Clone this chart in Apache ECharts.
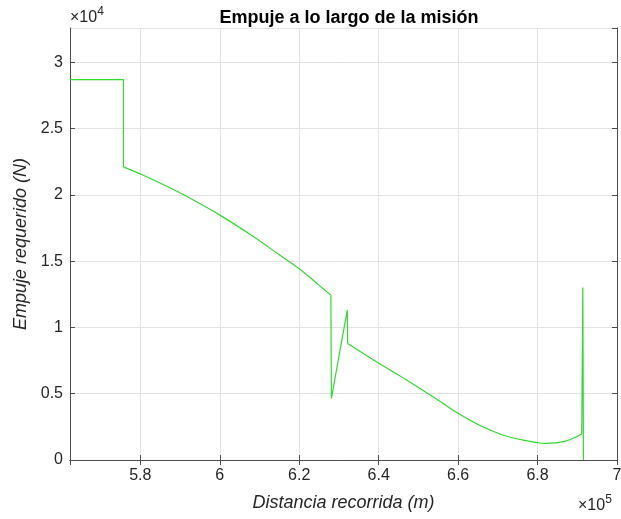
<!DOCTYPE html>
<html>
<head>
<meta charset="utf-8">
<script src="https://cdn.jsdelivr.net/npm/echarts@6/dist/echarts.min.js"></script>
<style>html,body{margin:0;padding:0;background:#fff;}#c{width:621px;height:519px;}</style>
</head>
<body>
<div id="c"></div>
<script>
// Distance travelled (m)
const distancia = [562300, 575750, 575750, 580200, 586000, 591500, 600050, 608250, 614970, 620180, 625030, 627970,
  628100, 632100, 632200, 640130, 646840, 655220, 660000, 665280, 672000, 680130, 682060, 687090,
  691120, 691400, 691550];
// Required thrust (N)
const empuje = [28710, 28710, 22120, 21560, 20750, 19920, 18480, 16900, 15490, 14400, 13180, 12440,
  4650, 11310, 8800, 7290, 6080, 4470, 3520, 2640, 1810, 1300, 1260, 1430,
  1960, 13020, 0];
// Index ranges of the smooth (continuous) flight phases; the rest are straight jumps
const smoothPhases = [[2, 11], [14, 24]];
const xTickLabels = ['5.8', '6', '6.2', '6.4', '6.6', '6.8', '7'];
const yTickLabels = ['0', '0.5', '1', '1.5', '2', '2.5', '3'];

const xMin = 562300, xMax = 700000, yMin = 0, yMax = 32600;
const axisColor = '#4d4d4d';
const textColor = '#262626';
const lineColor = '#2ddc2d';
const font = 'Liberation Sans, Arial, sans-serif';

const chart = echarts.init(document.getElementById('c'), null, {renderer: 'canvas'});
const xFmt = v => {
  const s = String(+(v / 1e5).toFixed(1));
  return xTickLabels.includes(s) ? s : '';
};
const yFmt = v => {
  const s = String(+(v / 1e4).toFixed(1));
  return yTickLabels.includes(s) ? s : '';
};
const baseX = {
  type: 'value', min: xMin, max: xMax, splitNumber: 7,
  axisLine: {show: true, lineStyle: {color: axisColor, width: 1}},
  axisTick: {show: true, inside: true, length: 5, lineStyle: {color: axisColor}},
};
const baseY = {
  type: 'value', min: yMin, max: yMax, splitNumber: 7,
  axisLine: {show: true, lineStyle: {color: axisColor, width: 1}},
  axisTick: {show: true, inside: true, length: 5, lineStyle: {color: axisColor}},
};
const expStyle = {
  a: {fontFamily: font, fontSize: 16, fill: textColor, verticalAlign: 'bottom', lineHeight: 20},
  b: {fontFamily: font, fontSize: 12, fill: textColor, verticalAlign: 'top', lineHeight: 20, padding: [0,0,9,0]}
};

const pts = distancia.map((d, i) => [d, empuje[i]]);
// Build series: straight pieces between smooth phases, smooth pieces for phases
const series = [];
let cursor = 0;
smoothPhases.forEach(([a, b]) => {
  if (a > cursor) series.push({data: pts.slice(cursor, a + 1), smooth: false});
  series.push({data: pts.slice(a, b + 1), smooth: 0.35});
  cursor = b;
});
if (cursor < pts.length - 1) series.push({data: pts.slice(cursor), smooth: false});

chart.setOption({
  animation: false,
  backgroundColor: '#fff',
  title: {
    text: 'Empuje a lo largo de la misión', left: 344, top: 4, textAlign: 'center',
    textStyle: {fontFamily: font, fontSize: 18, fontWeight: 'bold', color: '#000'}
  },
  grid: {left: 70, right: 4, top: 28, bottom: 59, containLabel: false, outerBoundsMode: 'none'},
  xAxis: [
    Object.assign({}, baseX, {
      position: 'bottom',
      name: 'Distancia recorrida (m)', nameLocation: 'middle', nameGap: 34,
      nameTextStyle: {fontFamily: font, fontSize: 18, fontStyle: 'italic', color: textColor},
      axisLabel: {show: true, margin: 8, formatter: xFmt, showMinLabel: false,
        fontFamily: font, fontSize: 16, color: textColor},
      splitLine: {show: true, lineStyle: {color: '#e3e3e3', width: 1}}
    }),
    Object.assign({}, baseX, {
      position: 'top', axisLabel: {show: false}, splitLine: {show: false}
    })
  ],
  yAxis: [
    Object.assign({}, baseY, {
      position: 'left',
      name: 'Empuje requerido (N)', nameLocation: 'middle', nameGap: 36,
      nameTextStyle: {fontFamily: font, fontSize: 18, fontStyle: 'italic', color: textColor},
      axisLabel: {show: true, margin: 7, formatter: yFmt, showMaxLabel: false,
        fontFamily: font, fontSize: 16, color: textColor},
      splitLine: {show: true, lineStyle: {color: '#e3e3e3', width: 1}}
    }),
    Object.assign({}, baseY, {
      position: 'right', axisLabel: {show: false}, splitLine: {show: false}
    })
  ],
  graphic: [
    {type: 'text', left: 70, top: 6, style: {text: '{a|×10}{b|4}', fill: textColor, rich: expStyle}},
    {type: 'text', left: 578, top: 494, style: {text: '{a|×10}{b|5}', fill: textColor, rich: expStyle}}
  ],
  series: series.map(s => ({
    type: 'line', xAxisIndex: 0, yAxisIndex: 0,
    data: s.data, smooth: s.smooth,
    showSymbol: false,
    lineStyle: {color: lineColor, width: 1.2},
    silent: true
  }))
});
</script>
</body>
</html>
